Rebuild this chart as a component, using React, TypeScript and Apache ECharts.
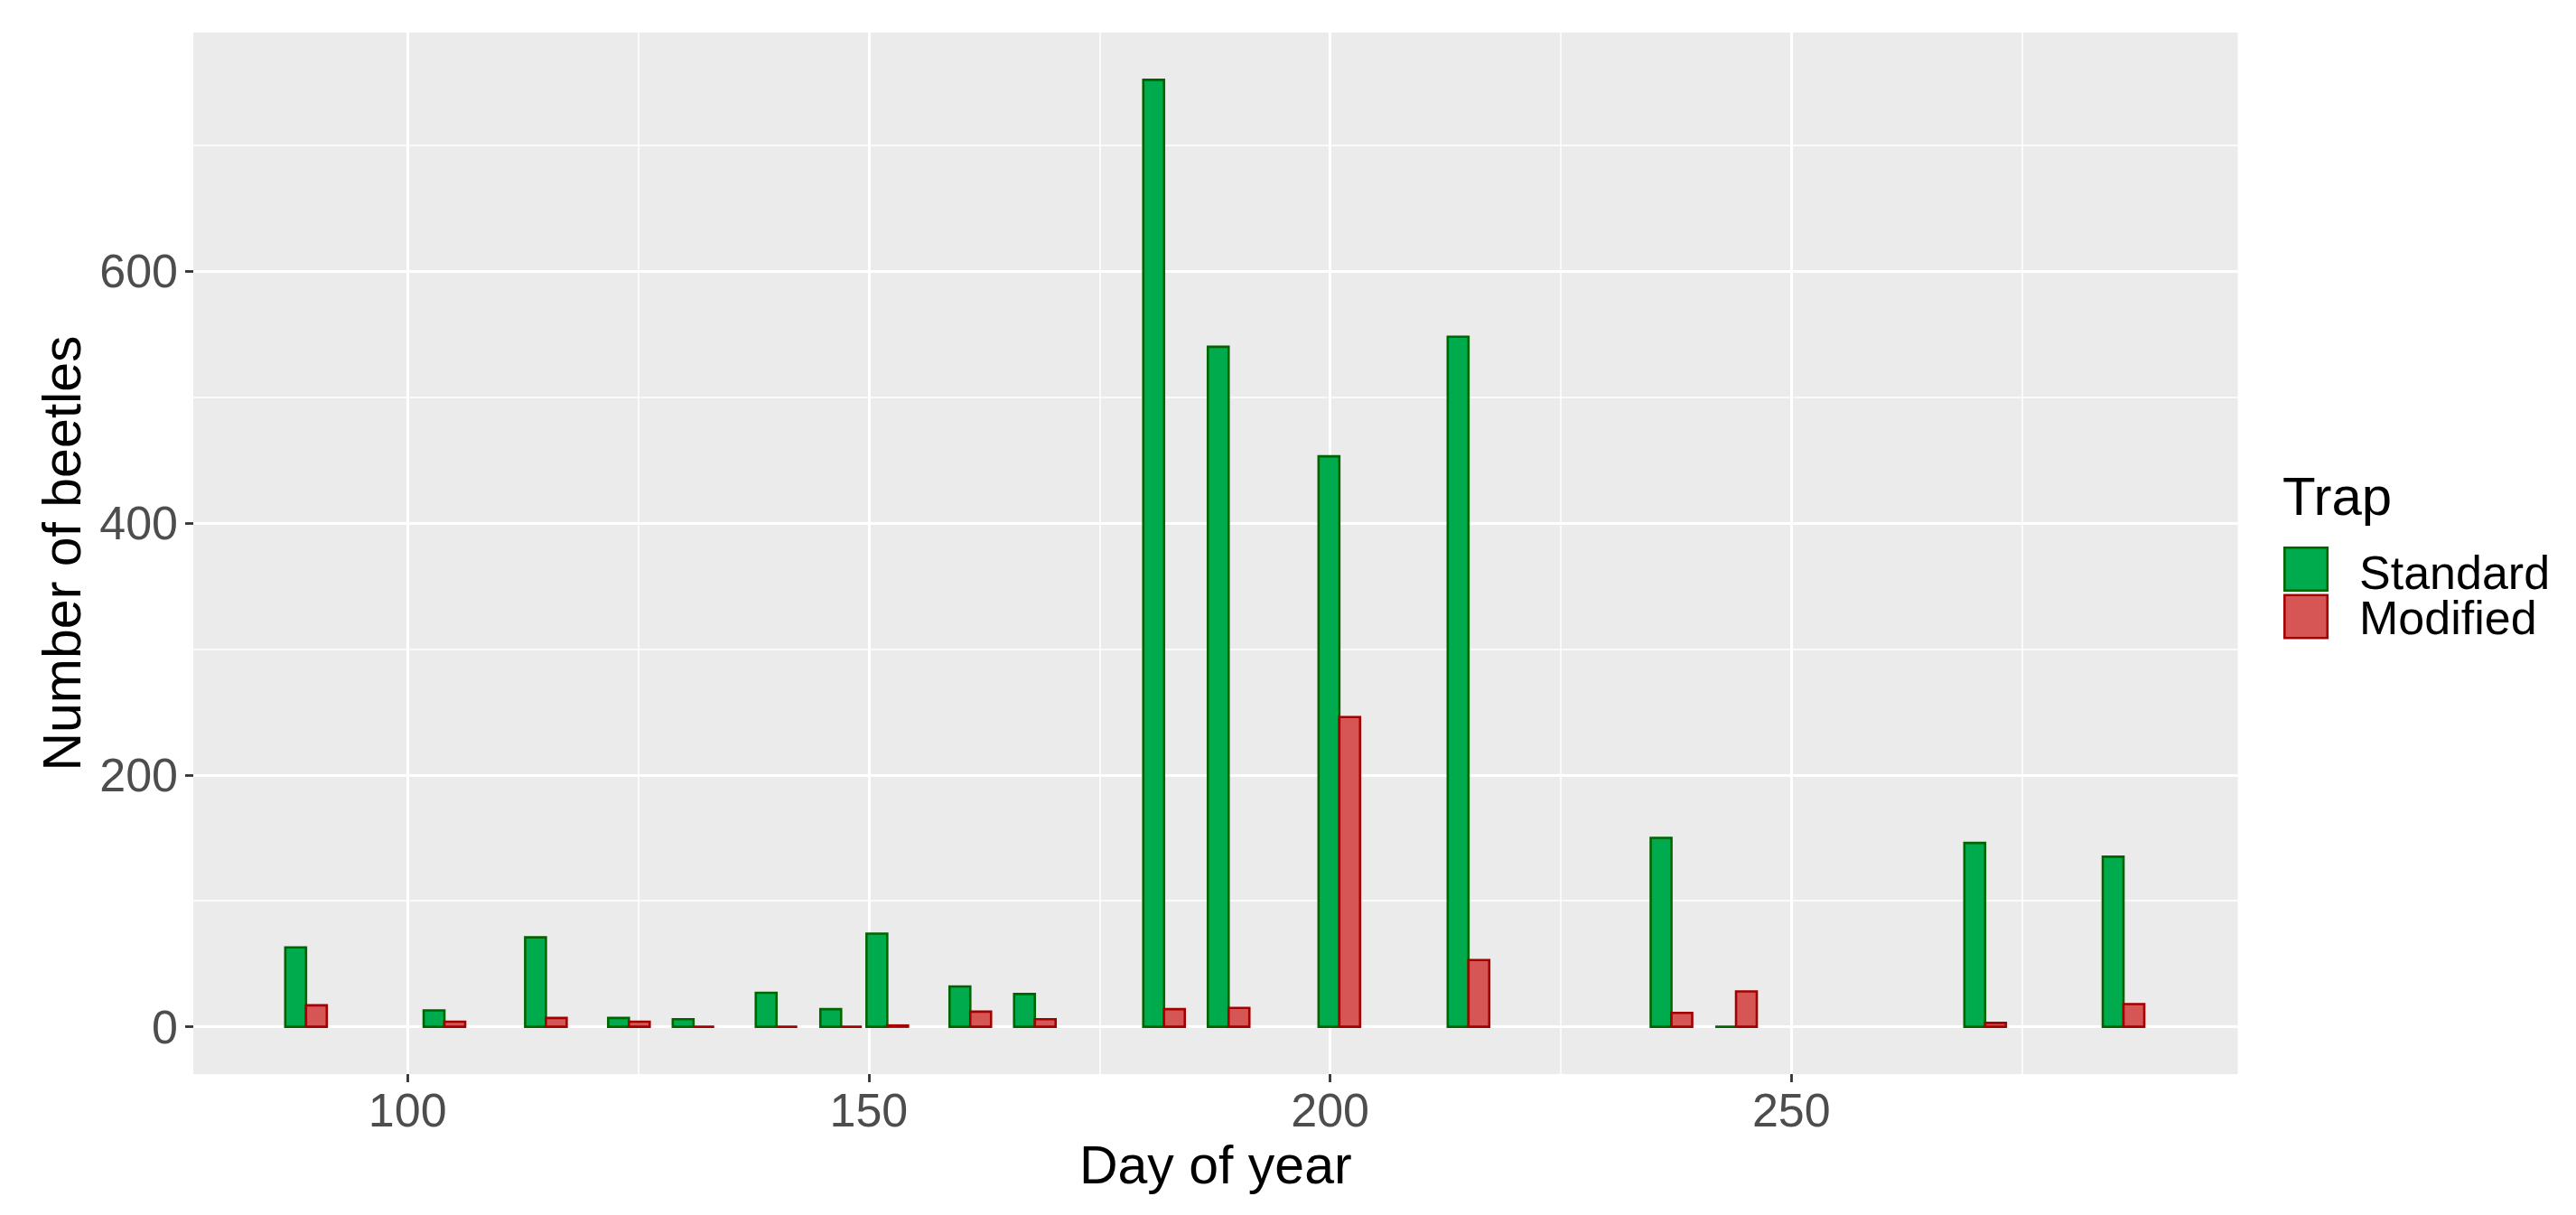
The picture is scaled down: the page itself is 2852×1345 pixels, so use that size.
import React, { useEffect, useRef } from 'react';
import * as echarts from 'echarts';

// ---- data ----
const days = [89, 104, 115, 124, 131, 140, 147, 152, 161, 168, 182, 189, 201, 215, 237, 244, 271, 286];
const standardCounts = [63, 13, 71, 7, 6, 27, 14, 74, 32, 26, 752, 540, 453, 548, 150, 0, 146, 135];
const modifiedCounts = [17, 4, 7, 4, 0, 0, 0, 1, 12, 6, 14, 15, 246, 53, 11, 28, 3, 18];
const seriesNames = ['Standard', 'Modified'];
const xTickValues = [100, 150, 200, 250];
const xMinorValues = [125, 175, 225, 275];
const yTickValues = [0, 200, 400, 600];
const yMinorValues = [100, 300, 500, 700];

// ---- layout / style ----
const X_MIN = 76.78;
const X_MAX = 298.38;
const Y_MIN = -37.6;
const Y_MAX = 789.6;
const BAR_W = 2.25; // bar width in days
const FONT = "'Liberation Sans', Arial, Helvetica, sans-serif";
const GREEN_FILL = '#00AB4E';
const GREEN_STROKE = '#006400';
const RED_FILL = '#D65555';
const RED_STROKE = '#A30000';

function makeRender(side: number, fill: string, stroke: string) {
  return (params: any, api: any) => {
    const d = api.value(0) as number;
    const v = api.value(1) as number;
    const a = api.coord([side < 0 ? d - BAR_W : d, v]);
    const b = api.coord([side < 0 ? d : d + BAR_W, 0]);
    return {
      type: 'rect',
      shape: { x: a[0], y: a[1], width: b[0] - a[0], height: b[1] - a[1] },
      style: { fill, stroke, lineWidth: 2.6 },
    };
  };
}

export default function App() {
  const ref = useRef<HTMLDivElement>(null);
  useEffect(() => {
    document.body.style.margin = '0';
    if (!ref.current) return;
    const chart = echarts.init(ref.current, undefined, { renderer: 'svg' });
    const majorSplit = { show: true, lineStyle: { color: '#FFFFFF', width: 3 } };
    const minorSplit = { show: true, lineStyle: { color: '#FFFFFF', width: 1.5 } };
    chart.setOption({
      animation: false,
      backgroundColor: '#FFFFFF',
      grid: {
        left: 214,
        top: 36,
        width: 2263.5,
        height: 1153,
        show: true,
        backgroundColor: '#EBEBEB',
        borderWidth: 0,
        containLabel: false,
        outerBoundsMode: 'none',
      },
      xAxis: [
        {
          type: 'value',
          min: X_MIN,
          max: X_MAX,
          position: 'bottom',
          axisLine: { show: false, onZero: false },
          axisTick: { show: true, length: 9, customValues: xTickValues, lineStyle: { color: '#333333', width: 2.8 } },
          axisLabel: { show: true, customValues: xTickValues, fontSize: 52, color: '#4D4D4D', fontFamily: FONT, margin: 14 },
          splitLine: majorSplit,
          name: 'Day of year',
          nameLocation: 'middle',
          nameGap: 71,
          nameTextStyle: { fontSize: 59, color: '#000000', fontFamily: FONT },
        },
        {
          type: 'value',
          min: X_MIN,
          max: X_MAX,
          position: 'bottom',
          axisLine: { show: false, onZero: false },
          axisTick: { show: true, length: 0, customValues: xMinorValues, lineStyle: { width: 0 } },
          axisLabel: { show: false },
          splitLine: minorSplit,
        },
      ],
      yAxis: [
        {
          type: 'value',
          min: Y_MIN,
          max: Y_MAX,
          position: 'left',
          axisLine: { show: false, onZero: false },
          axisTick: { show: true, length: 9, customValues: yTickValues, lineStyle: { color: '#333333', width: 2.8 } },
          axisLabel: { show: true, customValues: yTickValues, fontSize: 52, color: '#4D4D4D', fontFamily: FONT, margin: 17 },
          splitLine: majorSplit,
          name: 'Number of beetles',
          nameLocation: 'middle',
          nameGap: 116,
          nameTextStyle: { fontSize: 59, color: '#000000', fontFamily: FONT },
        },
        {
          type: 'value',
          min: Y_MIN,
          max: Y_MAX,
          position: 'left',
          axisLine: { show: false, onZero: false },
          axisTick: { show: true, length: 0, customValues: yMinorValues, lineStyle: { width: 0 } },
          axisLabel: { show: false },
          splitLine: minorSplit,
        },
      ],
      series: [
        {
          type: 'custom',
          name: seriesNames[0],
          xAxisIndex: 0,
          yAxisIndex: 0,
          encode: { x: 0, y: 1 },
          data: days.map((d, i) => [d, standardCounts[i]]),
          renderItem: makeRender(-1, GREEN_FILL, GREEN_STROKE),
        },
        {
          type: 'custom',
          name: seriesNames[1],
          xAxisIndex: 0,
          yAxisIndex: 0,
          encode: { x: 0, y: 1 },
          data: days.map((d, i) => [d, modifiedCounts[i]]),
          renderItem: makeRender(1, RED_FILL, RED_STROKE),
        },
      ],
      graphic: [
        {
          type: 'text',
          x: 2527,
          y: 549,
          style: { text: 'Trap', fontSize: 60, fontFamily: FONT, fill: '#000000', align: 'left', verticalAlign: 'middle' },
        },
        {
          type: 'rect',
          shape: { x: 2529.3, y: 606.3, width: 47.5, height: 47.5 },
          style: { fill: GREEN_FILL, stroke: GREEN_STROKE, lineWidth: 2.6 },
        },
        {
          type: 'rect',
          shape: { x: 2529.3, y: 658.8, width: 47.5, height: 47.5 },
          style: { fill: RED_FILL, stroke: RED_STROKE, lineWidth: 2.6 },
        },
        {
          type: 'text',
          x: 2612,
          y: 634,
          style: { text: seriesNames[0], fontSize: 52, fontFamily: FONT, fill: '#000000', align: 'left', verticalAlign: 'middle' },
        },
        {
          type: 'text',
          x: 2612,
          y: 684,
          style: { text: seriesNames[1], fontSize: 52, fontFamily: FONT, fill: '#000000', align: 'left', verticalAlign: 'middle' },
        },
      ],
    });
    return () => chart.dispose();
  }, []);
  return <div ref={ref} style={{ width: 2852, height: 1345 }} />;
}
